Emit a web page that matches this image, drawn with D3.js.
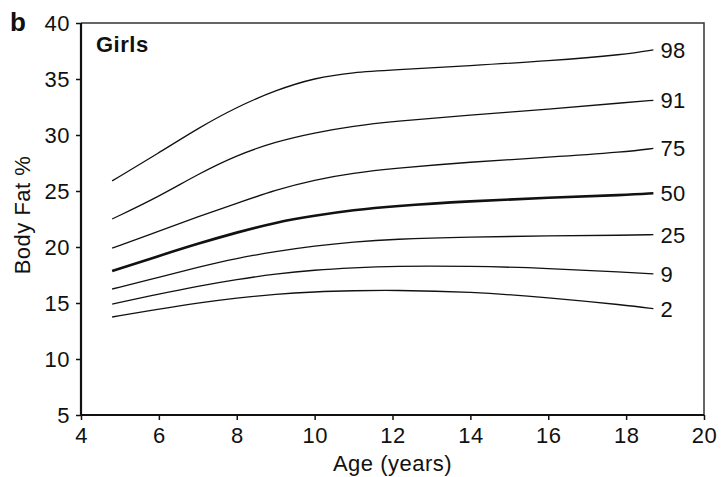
<!DOCTYPE html>
<html>
<head>
<meta charset="utf-8">
<script src="https://cdn.jsdelivr.net/npm/d3@7"></script>
<style>
  body { margin: 0; background: #fff; }
  text { font-family: "Liberation Sans", Arial, sans-serif; fill: #111; letter-spacing: 0.5px; }
</style>
</head>
<body>
<svg id="chart"></svg>
<script>
// ages where the centile curves were read
const ages = [4.8, 6, 7, 8, 9, 10, 11, 12, 14, 16, 18, 18.7];

// body fat % centiles (girls)
const c98 = [25.9, 28.4, 30.6, 32.5, 34.0, 35.1, 35.6, 35.8, 36.2, 36.6, 37.2, 37.6];
const c91 = [22.5, 24.5, 26.5, 28.2, 29.4, 30.2, 30.8, 31.2, 31.8, 32.3, 32.9, 33.1];
const c75 = [19.9, 21.4, 22.7, 23.9, 25.1, 26.0, 26.6, 27.0, 27.6, 28.0, 28.5, 28.8];
const c50 = [17.85, 19.2, 20.3, 21.3, 22.2, 22.8, 23.3, 23.65, 24.1, 24.4, 24.65, 24.8];
const c25 = [16.25, 17.3, 18.2, 19.0, 19.6, 20.1, 20.45, 20.7, 20.9, 21.0, 21.05, 21.1];
const c9 = [14.9, 15.8, 16.5, 17.1, 17.6, 17.95, 18.15, 18.3, 18.3, 18.1, 17.75, 17.6];
const c2 = [13.75, 14.45, 15.0, 15.45, 15.8, 16.0, 16.1, 16.15, 16.0, 15.5, 14.8, 14.5];

const centiles = ['98', '91', '75', '50', '25', '9', '2'];
const seriesValues = [c98, c91, c75, c50, c25, c9, c2];

const xTicks = [4, 6, 8, 10, 12, 14, 16, 18, 20];
const yTicks = [5, 10, 15, 20, 25, 30, 35, 40];

const W = 724, H = 477;
const margin = { top: 23, right: 20, bottom: 62, left: 81 };

const svg = d3.select('#chart').attr('width', W).attr('height', H);

const x = d3.scaleLinear().domain([4, 20]).range([margin.left, W - margin.right]);
const y = d3.scaleLinear().domain([5, 40]).range([H - margin.bottom, margin.top]);

// frame top + right (thin)
svg.append('path')
  .attr('d', `M${x(4)},${y(40)}H${x(20)}V${y(5)}`)
  .attr('fill', 'none')
  .attr('stroke', '#333')
  .attr('stroke-width', 1.5);

const xAxis = svg.append('g')
  .attr('transform', `translate(0,${y(5)})`)
  .call(d3.axisBottom(x).tickValues(xTicks).tickSize(5).tickPadding(7).tickFormat(d3.format('d')));

const yAxis = svg.append('g')
  .attr('transform', `translate(${x(4)},0)`)
  .call(d3.axisLeft(y).tickValues(yTicks).tickSize(5).tickPadding(6).tickFormat(d3.format('d')));

[xAxis, yAxis].forEach(g => {
  g.select('.domain').attr('stroke', '#111').attr('stroke-width', 2.2)
    .attr('d', g === xAxis ? `M${x(4)},0H${x(20)}` : `M0,${y(5)}V${y(40)}`);
  g.selectAll('.tick line').attr('stroke', '#111').attr('stroke-width', 1.5);
  g.selectAll('.tick text')
    .style('font-family', '"Liberation Sans", Arial, sans-serif')
    .style('font-size', '22px')
    .style('letter-spacing', '0.5px')
    .attr('fill', '#111');
});

// curves
const line = d3.line()
  .x((d, i) => x(ages[i]))
  .y(d => y(d))
  .curve(d3.curveBasis);

svg.append('g')
  .selectAll('path')
  .data(seriesValues)
  .join('path')
  .attr('d', d => line(d))
  .attr('fill', 'none')
  .attr('stroke', '#111')
  .attr('stroke-width', (d, i) => centiles[i] === '50' ? 2.6 : 1.3);

// centile labels
svg.append('g')
  .selectAll('text')
  .data(seriesValues)
  .join('text')
  .attr('x', x(ages[ages.length - 1]) + 7)
  .attr('y', d => y(d[d.length - 1]))
  .attr('dy', '0.36em')
  .style('font-size', '22px')
  .text((d, i) => centiles[i]);

// panel letter and title
svg.append('text')
  .attr('x', 10).attr('y', 31)
  .style('font-size', '26px').style('font-weight', 'bold')
  .text('b');

svg.append('text')
  .attr('x', 96).attr('y', 52)
  .style('font-size', '22px').style('font-weight', 'bold')
  .text('Girls');

// axis titles
svg.append('text')
  .attr('x', (x(4) + x(20)) / 2).attr('y', 471)
  .attr('text-anchor', 'middle')
  .style('font-size', '22px')
  .text('Age (years)');

svg.append('text')
  .attr('transform', `translate(30,${(y(5) + y(40)) / 2 - 4}) rotate(-90)`)
  .attr('text-anchor', 'middle')
  .style('font-size', '22px')
  .text('Body Fat %');
</script>
</body>
</html>
